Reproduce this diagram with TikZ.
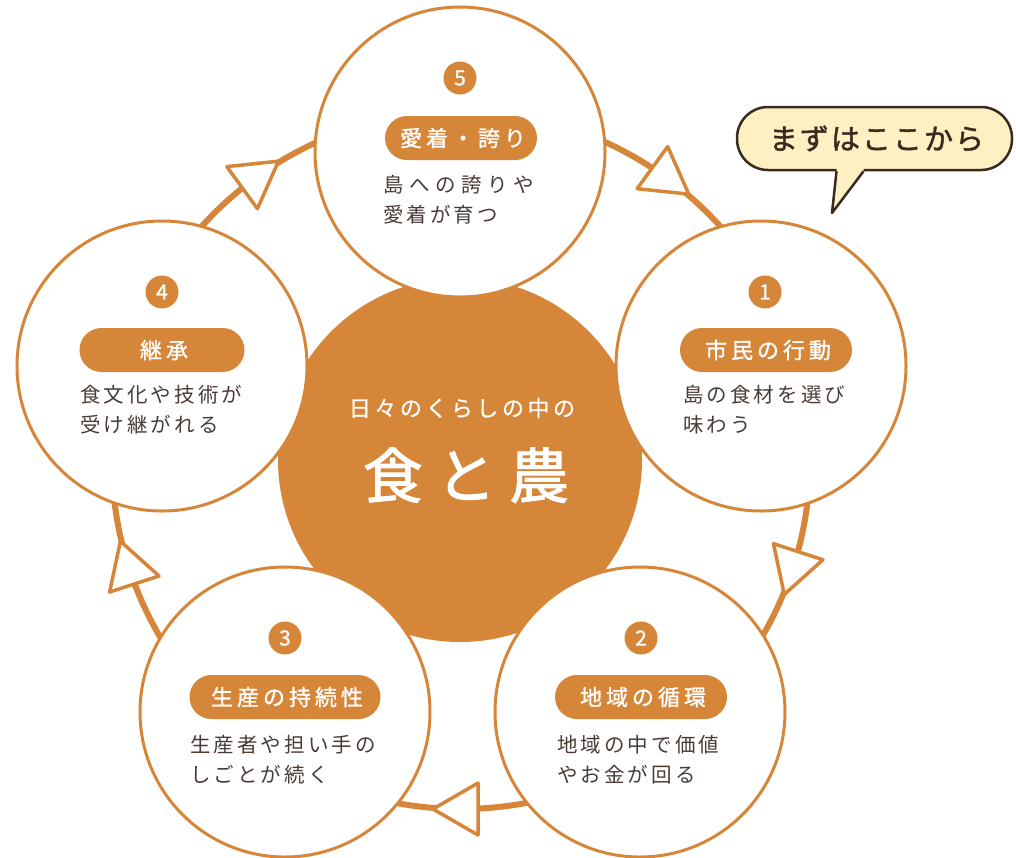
\documentclass[tikz,border=0pt]{standalone}
\usepackage{fontspec}
\setmainfont{Noto Sans CJK JP}
\usetikzlibrary{calc}
\definecolor{orng}{HTML}{D68639}
\definecolor{brn}{HTML}{4A3B34}
\definecolor{cream}{HTML}{FFF0C4}
\definecolor{dbrn}{HTML}{3A2A20}
\tikzset{
 ring/.style={draw=orng, line width=6pt},
 flowtip/.style={draw=orng, fill=white, line width=3.5pt, line join=round},
 hub/.style={circle, fill=orng, minimum size=364pt, inner sep=0pt},
 stage/.style={circle, draw=orng, fill=white, line width=3pt, minimum size=290pt, inner sep=0pt},
 badge/.style={circle, fill=orng, minimum size=33pt, inner sep=0pt, text=white, font=\fontsize{21}{21}\selectfont\addfontfeature{FakeBold=1}},
 pill/.style={rounded corners=22pt, fill=orng, minimum height=44pt, inner sep=0pt, text=white,
   font=\fontsize{22}{22}\selectfont\addfontfeature{LetterSpace=18,FakeBold=1.2}, text height=19.4pt, text depth=2.6pt},
 desc/.style={anchor=west, inner sep=0pt, text=brn,
   font=\fontsize{20.5}{20.5}\selectfont\addfontfeature{LetterSpace=15}, text height=18pt, text depth=2.5pt},
 hubtext/.style={inner sep=0pt, text=white},
 callbox/.style={rounded corners=31pt, fill=cream, draw=dbrn, line width=2.5pt, minimum width=275pt, minimum height=63pt, inner sep=0pt,
   text=dbrn, font=\fontsize{29}{29}\selectfont\addfontfeature{LetterSpace=7,FakeBold=1.5}, text height=25.5pt, text depth=3.5pt},
}
\begin{document}
\begin{tikzpicture}[x=1pt,y=-1pt]
\useasboundingbox (0,0) rectangle (1016,857);
\fill[white] (0,0) rectangle (1016,857);
% ring
\coordinate (C) at (461,460);
\draw[ring] (C) circle[radius=349pt];
% flow arrowheads
\foreach \a in {-54,18,90,162,234}{
  \draw[flowtip] ({461+349*cos(\a)-28*sin(\a)},{460+349*sin(\a)+28*cos(\a)})
    -- ({461+375*cos(\a)+17*sin(\a)},{460+375*sin(\a)-17*cos(\a)})
    -- ({461+323*cos(\a)+17*sin(\a)},{460+323*sin(\a)-17*cos(\a)}) -- cycle;
}
% hub
\node[hub] (hub) at (460,460) {};
\node[hubtext, font=\fontsize{22}{22}\selectfont\addfontfeature{LetterSpace=16,FakeBold=0.6}, text height=19.4pt, text depth=2.6pt] (sub) at (462,408) {日々のくらしの中の};
\node[hubtext, font=\fontsize{60}{60}\selectfont\addfontfeature{LetterSpace=22,FakeBold=1.6}, text height=53pt, text depth=7pt] (main) at (466,475) {食と農};
% stages
\node[stage] (s5) at (460,152) {};
\node[stage] (s1) at (761,366) {};
\node[stage] (s2) at (640,712) {};
\node[stage] (s3) at (285,712) {};
\node[stage] (s4) at (162,366) {};
% stage 5
\node[badge] (b5) at (460,78) {5};
\node[pill, minimum width=152pt] (p5) at (461,138) {\hspace*{4pt}愛着・誇り};
\node[desc, font=\fontsize{20.5}{20.5}\selectfont\addfontfeature{LetterSpace=27}] (d5a) at (383,185) {島への誇りや};
\node[desc] (d5b) at (383,215) {愛着が育つ};
% stage 1
\node[badge] (b1) at (765,292) {1};
\node[pill, minimum width=172pt] (p1) at (766,350) {\hspace*{4pt}市民の行動};
\node[desc] (d1a) at (683,395) {島の食材を選び};
\node[desc] (d1b) at (683,425) {味わう};
% stage 2
\node[badge] (b2) at (641,638) {2};
\node[pill, minimum width=172pt] (p2) at (641,697) {\hspace*{4pt}地域の循環};
\node[desc] (d2a) at (557,745) {地域の中で価値};
\node[desc] (d2b) at (557,775) {やお金が回る};
% stage 3
\node[badge] (b3) at (285,638) {3};
\node[pill, minimum width=191pt] (p3) at (285,697) {\hspace*{4pt}生産の持続性};
\node[desc] (d3a) at (190,745) {生産者や担い手の};
\node[desc] (d3b) at (190,775) {しごとが続く};
% stage 4
\node[badge] (b4) at (162,292) {4};
\node[pill, minimum width=165pt] (p4) at (162,350) {\hspace*{4pt}継承};
\node[desc] (d4a) at (80,395) {食文化や技術が};
\node[desc] (d4b) at (80,425) {受け継がれる};
% callout
\node[callbox] (call) at (874.5,138.5) {\hspace*{4pt}まずはここから};
\coordinate (tip) at (832,213);
\fill[cream] ($(call.south)+(-38,-4)$) -- ($(call.south)+(-11,-4)$) -- ($(call.south)+(-11,0)$) -- (tip) -- ($(call.south)+(-38,0)$) -- cycle;
\draw[dbrn, line width=2.5pt, line join=round] ($(call.south)+(-38,0)$) -- (tip) -- ($(call.south)+(-11,0)$);
\end{tikzpicture}
\end{document}
